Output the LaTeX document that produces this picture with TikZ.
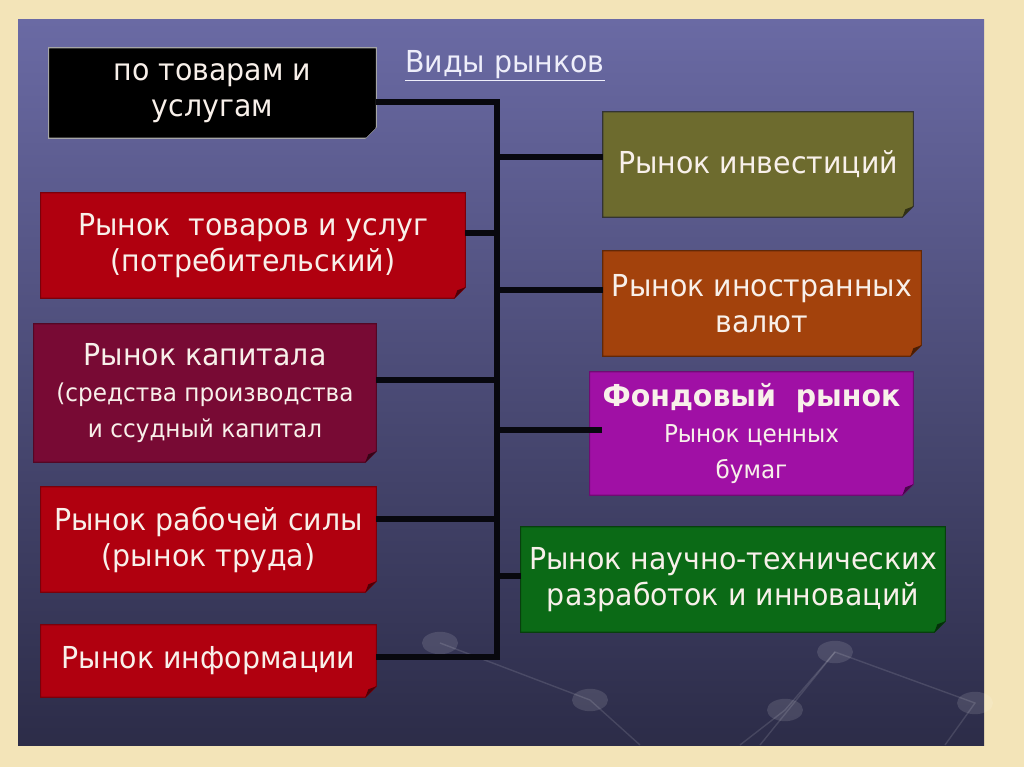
\documentclass[tikz,border=0pt]{standalone}
\usepackage{fontspec}
\setmainfont{DejaVu Sans}[FakeStretch=0.94]
\usetikzlibrary{calc}
\usetikzlibrary{backgrounds}

\definecolor{frame}{HTML}{F3E4B8}
\definecolor{slatetop}{HTML}{6A6AA4}
\definecolor{slatebot}{HTML}{2C2C48}
\definecolor{redbox}{HTML}{B0000F}
\definecolor{maroonbox}{HTML}{780A34}
\definecolor{olivebox}{HTML}{6D6B2E}
\definecolor{rustbox}{HTML}{A3420C}
\definecolor{violetbox}{HTML}{A010A5}
\definecolor{greenbox}{HTML}{0B6A16}
\definecolor{boxtext}{HTML}{F8F0EA}
\definecolor{titletext}{HTML}{EEEEFA}
\definecolor{linecol}{HTML}{08080E}

\newcommand{\bigtxt}{\fontsize{21.5}{25.5}\selectfont}
\newcommand{\smalltxt}{\fontsize{17.5}{23}\selectfont}

\begin{document}
\begin{tikzpicture}[x=0.025cm, y=-0.025cm,
    mbox/.style={inner sep=0pt, align=center, font=\bigtxt, text=boxtext},
    conn/.style={line width=3.6pt, draw=linecol, line join=miter}]
	% slide
	\begin{scope}[on background layer]
		\fill[frame] (0,0) rectangle (1024,767);
		\shade[top color=slatetop, bottom color=slatebot] (18,20) rectangle (984,745);
		\begin{scope}[draw=white, opacity=0.12, line width=1pt]
			\draw (760,745) -- (835,652) -- (975,703) -- (945,745);
			\draw (835,652) -- (785,710) -- (740,745);
			\draw (440,643) -- (590,700) -- (640,745);
		\end{scope}
		\foreach \p in {(835,652),(785,710),(975,703),(440,643),(590,700)}
			\fill[white, opacity=0.12] \p ellipse (0.45cm and 0.28cm);
	\end{scope}
	
	\node[font=\fontsize{21.5}{26}\selectfont, text=titletext] (title) at (505,66) {\underline{Виды рынков}};
	
	\node[mbox, minimum width=8.175cm, minimum height=2.25cm] (goods) at (212.5,93) {по товарам и\\услугам};
	\node[mbox, minimum width=10.6cm, minimum height=2.625cm] (consumer) at (253,245.5) {Рынок\ \ товаров и услуг\\(потребительский)};
	\node[mbox, minimum width=8.55cm, minimum height=3.45cm] (capital) at (205,393) {Рынок капитала\\\smalltxt(средства производства\\\smalltxt и ссудный капитал};
	\node[mbox, minimum width=8.375cm, minimum height=2.625cm] (labour) at (208.5,539.5) {Рынок рабочей силы\\(рынок труда)};
	\node[mbox, minimum width=8.375cm, minimum height=1.8cm] (info) at (208.5,661) {Рынок информации};
	
	\node[mbox, minimum width=7.75cm, minimum height=2.625cm] (invest) at (758,164.5) {Рынок инвестиций};
	\node[mbox, minimum width=7.95cm, minimum height=2.625cm] (currency) at (762,303.5) {Рынок иностранных\\валют};
	\node[mbox, minimum width=8.075cm, minimum height=3.075cm] (stock) at (751.5,433.5) {\textbf{Фондовый\ \ рынок}\\\smalltxt Рынок ценных\\\smalltxt бумаг};
	\node[mbox, minimum width=10.6cm, minimum height=2.625cm] (innov) at (733,579.5) {Рынок научно-технических\\разработок и инноваций};
	
	% box bodies with the folded corner
	\begin{scope}[on background layer]
		\foreach \n/\c/\e in {goods/black/gray!70, consumer/redbox/redbox!70!black, capital/maroonbox/maroonbox!70!black,
				labour/redbox/redbox!70!black, info/redbox/redbox!70!black, invest/olivebox/black!80,
				currency/rustbox/rustbox!60!black, stock/violetbox/violetbox!70!black, innov/greenbox/greenbox!60!black} {
			\filldraw[fill=\c, draw=\e, line width=0.8pt] (\n.north west) -- (\n.north east) -- ($(\n.south east)+(0,-11)$)
				-- ($(\n.south east)+(-11,0)$) -- (\n.south west) -- cycle;
			\fill[\c!45!black] ($(\n.south east)+(0,-11)$) -- ($(\n.south east)+(-11,0)$) -- ($(\n.south east)+(-8,-8)$) -- cycle;
		}
	\end{scope}
	
	% bus and branches
	\coordinate (bustop) at (497,102);
	\coordinate (busbot) at (497,657);
	\draw[conn] ($(goods.east)+(0,9)$) -- (bustop) -- (busbot) -- ($(info.east)+(0,-4)$);
	\foreach \n/\dy in {consumer/-12.5, capital/-13, labour/-20.5}
		\draw[conn] ($(\n.east)+(0,\dy)$) coordinate (tip) -- (tip -| bustop);
	\foreach \n/\dy in {invest/-7.5, currency/-13.5, innov/-3.5}
		\draw[conn] ($(\n.west)+(0,\dy)$) coordinate (tip) -- (tip -| bustop);
	\draw[conn] ($(stock.west)+(12,-3.5)$) coordinate (tip) -- (tip -| bustop);
\end{tikzpicture}
\end{document}
